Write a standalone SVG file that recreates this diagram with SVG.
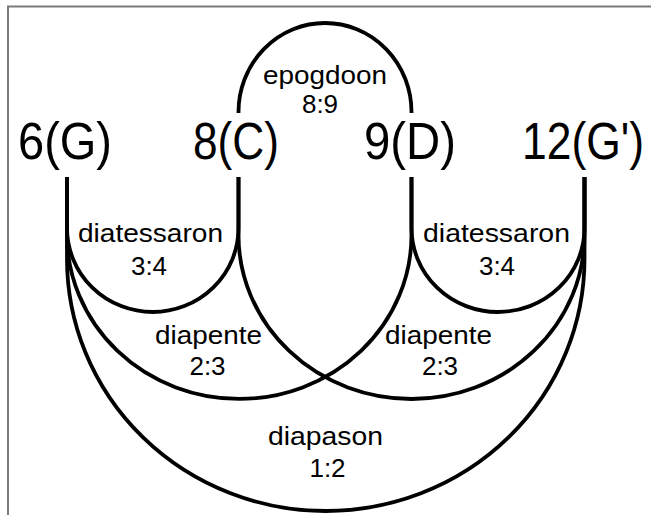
<svg xmlns="http://www.w3.org/2000/svg" width="651" height="515" viewBox="0 0 651 515">
<style>
.frame{fill:none;stroke:#7a7a7a;stroke-width:2}
.arc{fill:none;stroke:#000;stroke-width:3.8;stroke-linejoin:round}
.big{font-family:"Liberation Sans",Arial,sans-serif;font-size:51px;fill:#000;text-anchor:middle}
.lbl{font-family:"Liberation Sans",Arial,sans-serif;font-size:26px;fill:#000;text-anchor:middle}
</style>
<rect x="0" y="0" width="651" height="515" fill="#fff"/>
<path class="frame" d="M8,515 V6.5 H651"/>
<g id="node-6G"><text class="big" x="65" y="159" textLength="94" lengthAdjust="spacingAndGlyphs">6(G)</text></g>
<g id="node-8C"><text class="big" x="236" y="159" textLength="86" lengthAdjust="spacingAndGlyphs">8(C)</text></g>
<g id="node-9D"><text class="big" x="410" y="159" textLength="92" lengthAdjust="spacingAndGlyphs">9(D)</text></g>
<g id="node-12G"><text class="big" x="644" y="159" style="text-anchor:end" textLength="122" lengthAdjust="spacingAndGlyphs">12(G')</text></g>
<g id="connectors">
<path id="epogdoon" class="arc" d="M238.5,113 V112 A86.5 89 0 0 1 411.5,112 V113"/>
<path id="diatessaron-left" class="arc" d="M67,177 V228 A85.75 84 0 0 0 238.5,228 V177"/>
<path id="diatessaron-right" class="arc" d="M411.5,177 V228 A86.5 84 0 0 0 584.5,228 V177"/>
<path id="diapente-left" class="arc" d="M67,177 V235 A172.25 164 0 0 0 411.5,235 V177"/>
<path id="diapente-right" class="arc" d="M238.5,177 V235 A173 164 0 0 0 584.5,235 V177"/>
<path id="diapason" class="arc" d="M67,177 V259 A258.75 252 0 0 0 584.5,259 V177"/>
<g id="connector-labels">
<text class="lbl" x="325" y="84" textLength="124" lengthAdjust="spacingAndGlyphs">epogdoon</text>
<text class="lbl" x="320" y="113">8:9</text>
<text class="lbl" x="150.5" y="242" textLength="145" lengthAdjust="spacingAndGlyphs">diatessaron</text>
<text class="lbl" x="149" y="275">3:4</text>
<text class="lbl" x="496.5" y="242" textLength="147" lengthAdjust="spacingAndGlyphs">diatessaron</text>
<text class="lbl" x="497" y="275">3:4</text>
<text class="lbl" x="208.5" y="344" textLength="107" lengthAdjust="spacingAndGlyphs">diapente</text>
<text class="lbl" x="207.5" y="375">2:3</text>
<text class="lbl" x="438.5" y="344" textLength="107" lengthAdjust="spacingAndGlyphs">diapente</text>
<text class="lbl" x="440" y="375">2:3</text>
<text class="lbl" x="325.5" y="445" textLength="115" lengthAdjust="spacingAndGlyphs">diapason</text>
<text class="lbl" x="327.5" y="477">1:2</text>
</g>
</g>
</svg>
